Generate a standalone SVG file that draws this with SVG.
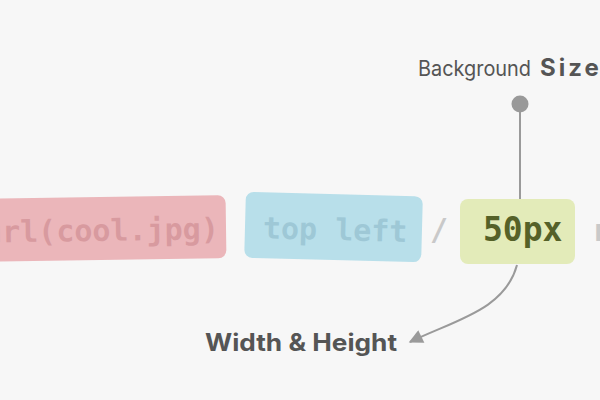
<svg xmlns="http://www.w3.org/2000/svg" width="600" height="400" viewBox="0 0 600 400">
<style>
.mono{font-family:"DejaVu Sans Mono","Liberation Mono",monospace;font-weight:bold}
.lbl{font-family:"Inter","Noto Sans",sans-serif;fill:#555}
.conn{fill:none;stroke:#9a9a9a;stroke-width:2}
</style>
<defs>
<marker id="ah" viewBox="0 0 10 10" refX="9" refY="5" markerWidth="16" markerHeight="14" markerUnits="userSpaceOnUse" orient="auto">
<path d="M0,0 L10,5 L0,10 z" fill="#9a9a9a"/>
</marker>
</defs>
<rect width="600" height="400" fill="#f7f7f7"/>
<g id="url" transform="rotate(-0.8 100 228)">
<rect x="-20" y="197" width="246" height="63" rx="8" fill="#ebb6ba"/>
<text class="mono" x="-16" y="241" font-size="30" fill="#d89a9f">url(cool.jpg)</text>
</g>
<g id="position" transform="rotate(1.5 333 228)">
<rect x="245" y="194" width="177" height="66" rx="8" fill="#b8dfea"/>
<text class="mono" x="263" y="240" font-size="30" fill="#9ec8d6">top left</text>
</g>
<text class="mono" x="430" y="240" font-size="30" fill="#c9c9c9" font-weight="normal">/</text>
<g id="size">
<rect x="460" y="199" width="115" height="65" rx="8" fill="#e3ebb9"/>
<text class="mono" x="483" y="241" font-size="33" fill="#556128">50px</text>
</g>
<text class="mono" x="592" y="241" font-size="30" fill="#c9c9c9" font-weight="normal">r</text>
<g id="connectors">
<line class="conn" x1="520" y1="104" x2="520" y2="199"/>
<circle cx="520" cy="104" r="8.5" fill="#999"/>
<path class="conn" d="M517,265 C505,310 455,320 410,342" marker-end="url(#ah)"/>
</g>
<g id="bg-label">
<text class="lbl" x="418" y="76" font-size="21" font-family="Roboto,sans-serif" textLength="113" lengthAdjust="spacingAndGlyphs">Background</text>
<text class="lbl" x="540" y="76" font-size="24" font-weight="bold" fill="#444" letter-spacing="3">Size</text>
</g>
<g id="wh-label">
<text class="lbl" x="205" y="351" font-size="24" font-weight="bold" fill="#444" textLength="192" lengthAdjust="spacingAndGlyphs">Width &amp; Height</text>
</g>
</svg>
